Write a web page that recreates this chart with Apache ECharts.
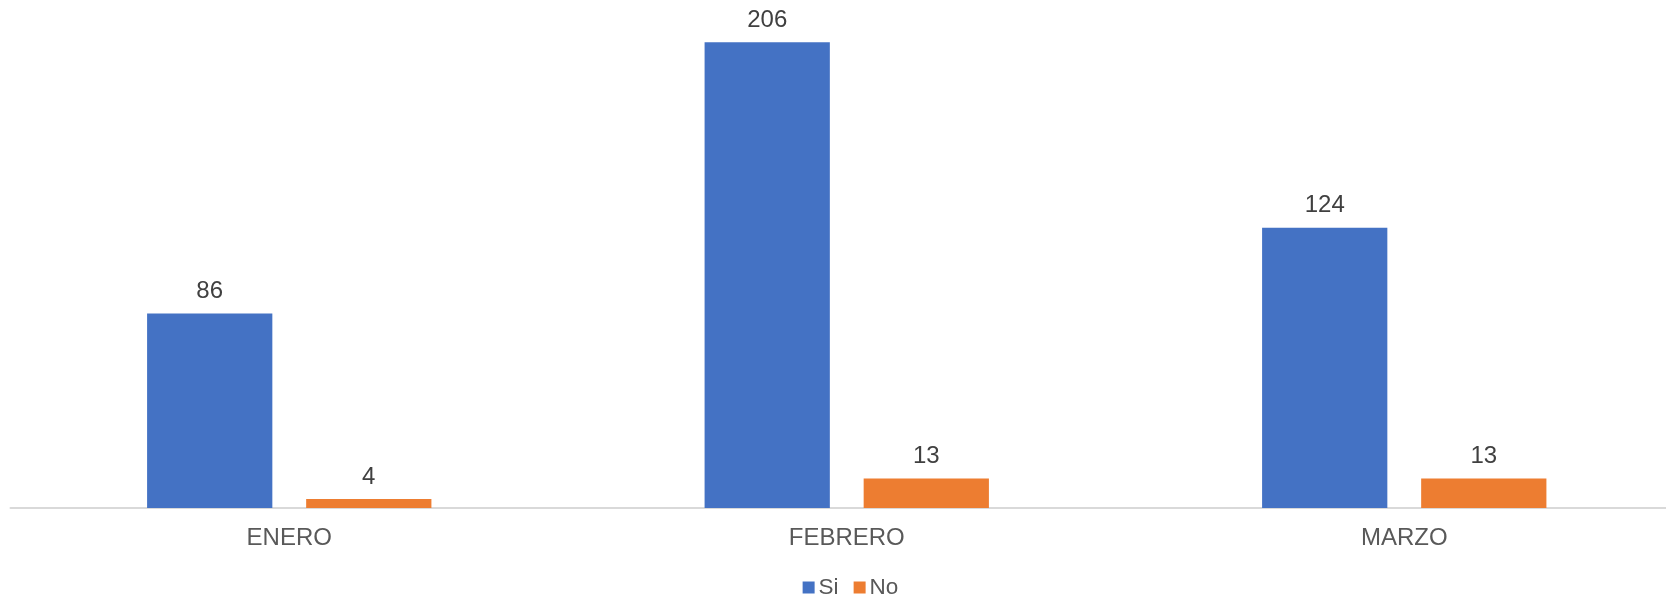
<!DOCTYPE html>
<html>
<head>
<meta charset="utf-8">
<script src="https://cdn.jsdelivr.net/npm/echarts@6/dist/echarts.min.js"></script>
<style>
  html, body { margin: 0; padding: 0; background: #fff; overflow: hidden; }
  /* the original chart area is wider than the visible picture; it is cropped on the right */
  #chart { width: 1701px; height: 601px; }
</style>
</head>
<body>
<div id="chart"></div>
<script>
// data
const months = ["ENERO", "FEBRERO", "MARZO"];
const siValues = [86, 206, 124];
const noValues = [4, 13, 13];

const chart = echarts.init(document.getElementById("chart"));

const labelStyle = {
  show: true,
  position: "top",
  distance: 10,
  color: "#404040",
  fontSize: 24,
  fontFamily: "Liberation Sans"
};

const option = {
  animation: false,
  backgroundColor: "#ffffff",
  textStyle: { fontFamily: "Liberation Sans" },
  legend: {
    data: ["Si", "No"],
    top: 571,
    left: "center",
    icon: "rect",
    itemWidth: 12,
    itemHeight: 12,
    itemGap: 15,
    textStyle: { color: "#595959", fontSize: 22.5, padding: [0, 0, 0, -1] }
  },
  grid: {
    left: 10.5,
    right: 18,
    top: 10.6,
    bottom: 93,
    containLabel: false
  },
  xAxis: {
    type: "category",
    data: months,
    axisTick: { show: false },
    axisLine: { show: true, lineStyle: { color: "#D9D9D9", width: 2 } },
    axisLabel: { color: "#595959", fontSize: 24, margin: 18 }
  },
  yAxis: {
    type: "value",
    min: 0,
    max: 220,
    show: false,
    splitLine: { show: false }
  },
  series: [
    {
      name: "Si",
      type: "bar",
      data: siValues,
      barGap: "27%",
      barCategoryGap: "49%",
      itemStyle: { color: "#4472C4" },
      label: labelStyle
    },
    {
      name: "No",
      type: "bar",
      data: noValues,
      itemStyle: { color: "#ED7D31" },
      label: labelStyle
    }
  ]
};

chart.setOption(option);
</script>
</body>
</html>
